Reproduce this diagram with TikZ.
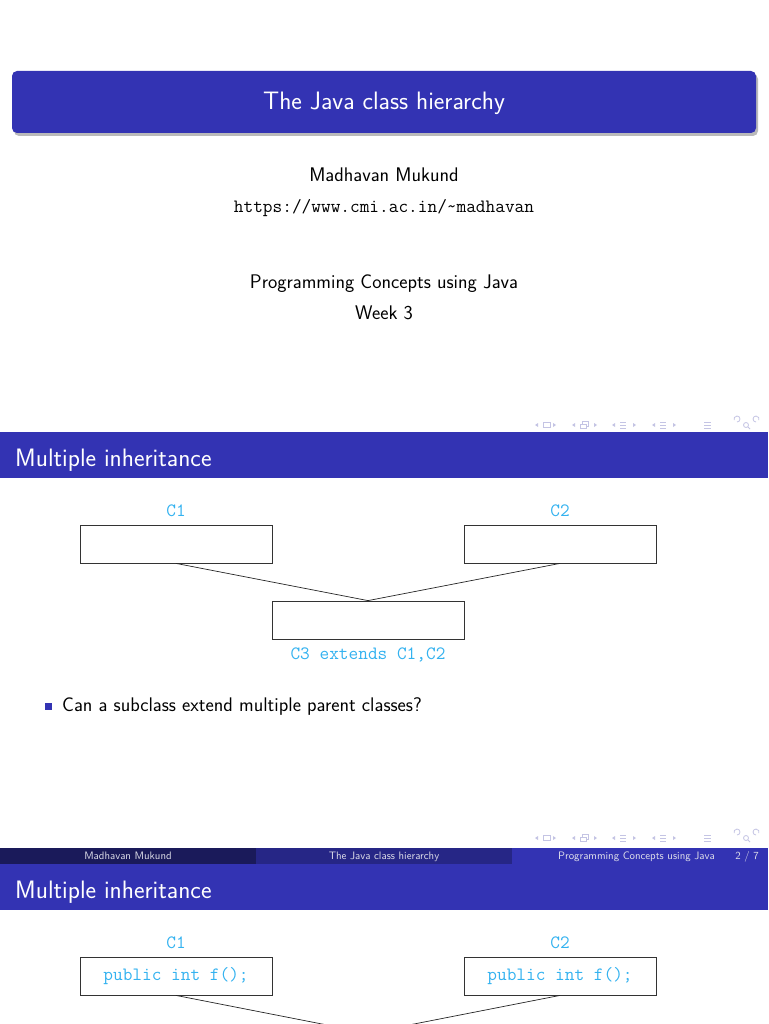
\documentclass[tikz,border=0pt]{standalone}
\usetikzlibrary{shadows}
\definecolor{bblue}{RGB}{51,51,179}
\definecolor{bmid}{RGB}{38,38,134}
\definecolor{bdark}{RGB}{26,26,90}
\definecolor{codecol}{RGB}{51,178,240}
\definecolor{navcol}{RGB}{196,196,228}
\definecolor{foottxt}{RGB}{225,225,235}
\newcommand\fnorm{\fontsize{19.7}{23}\selectfont}
\newcommand\fcode{\fontsize{18.8}{22}\selectfont}
\newcommand\flarge{\fontsize{25.2}{30}\selectfont}
\newcommand\ftiny{\fontsize{10.8}{13}\selectfont}
\newcommand\navsymbols[1]{%
  \begin{scope}[shift={(0,#1)}, navcol, line width=0.8pt]
    % group 1
    \fill (535,0) -- (538,-2) -- (538,2) -- cycle;
    \draw (543,-2.5) rectangle (550,2.5);
    \fill (556,0) -- (553,-2) -- (553,2) -- cycle;
    % group 2
    \fill (572,0) -- (575,-2) -- (575,2) -- cycle;
    \draw (580,-1) rectangle (586,3.5);
    \draw (582,-1) -- (582,-3.5) -- (588,-3.5) -- (588,1.5) -- (586,1.5);
    \fill (597,0) -- (594,-2) -- (594,2) -- cycle;
    % group 3
    \fill (612,0) -- (615,-2) -- (615,2) -- cycle;
    \draw (620,-3) -- (626,-3) (620,0) -- (626,0) (620,3) -- (626,3);
    \fill (636,0) -- (633,-2) -- (633,2) -- cycle;
    % group 4
    \fill (652,0) -- (655,-2) -- (655,2) -- cycle;
    \draw (660,-3) -- (666,-3) (660,0) -- (666,0) (660,3) -- (666,3);
    \fill (676,0) -- (673,-2) -- (673,2) -- cycle;
    % single
    \draw (704,-3) -- (711,-3) (704,0) -- (711,0) (704,3) -- (711,3);
    % search group
    \draw (737,-3) arc (90:-200:3);
    \draw (746,0) circle (2.5) (748,2) -- (750,4);
    \draw (756,-3) arc (90:380:3);
  \end{scope}}
\tikzset{
  titlebox/.style={fill=bblue, rounded corners=5pt, minimum width=744, minimum height=62,
    inner sep=0pt,
    drop shadow={shadow xshift=2pt, shadow yshift=-3pt, opacity=0.45, fill=black!60}},
  titletext/.style={text=white, font=\flarge\sffamily, inner sep=0pt, anchor=base},
  framebar/.style={fill=bblue, minimum width=768, minimum height=46, inner sep=0pt, anchor=north west},
  frametext/.style={text=white, font=\flarge\sffamily, anchor=base west, inner sep=0pt},
  body/.style={font=\fnorm\sffamily, inner sep=0pt},
  code/.style={text=codecol, font=\fcode\ttfamily, inner sep=0pt, anchor=base},
  classbox/.style={draw=black!80, line width=0.8pt, minimum width=192, minimum height=38, inner sep=0pt,
    text=codecol, font=\fcode\ttfamily},
  link/.style={draw=black!85, line width=0.7pt},
  footbox/.style={minimum width=256, minimum height=16, inner sep=0pt, anchor=north west},
  foottext/.style={text=foottxt, font=\ftiny\sffamily, inner sep=0pt, anchor=base},
}
\begin{document}
\begin{tikzpicture}[x=1pt,y=-1pt]
\useasboundingbox (0,0) rectangle (768,1024);
\fill[white] (0,0) rectangle (768,1024);

% ---------- slide 1 ----------
\node[titlebox] (title) at (384,102) {};
\node[titletext] (titlet) at (384,110) {The Java class hierarchy};
\node[body, anchor=base] (author) at (384,182) {Madhavan Mukund};
\node[body, anchor=base, font=\fcode\ttfamily] (url) at (384,213) {https://www.cmi.ac.in/\char`\~madhavan};
\node[body, anchor=base] (course) at (384,288) {Programming Concepts using Java};
\node[body, anchor=base] (week) at (384,319) {Week 3};
\navsymbols{425}

% ---------- slide 2 ----------
\node[framebar] (bar2) at (0,432) {};
\node[frametext] (ft2) at (15,466) {Multiple inheritance};

\node[classbox] (c1) at (176,544) {};
\node[classbox] (c2) at (560,544) {};
\node[classbox] (c3) at (368,620) {};
\node[code] (lc1) at (176,516) {C1};
\node[code] (lc2) at (560,516) {C2};
\node[code] (lc3) at (368,659) {C3 extends C1,C2};
\draw[link] (c1.south) -- (c3.north);
\draw[link] (c2.south) -- (c3.north);

\node[fill=bblue, minimum size=7, inner sep=0pt] (bul) at (48.5,706.5) {};
\node[body, anchor=base west] (q) at (62,711) {Can a subclass extend multiple parent classes?};
\navsymbols{838}

% footer
\node[footbox, fill=bdark] (f1) at (0,848) {};
\node[footbox, fill=bmid] (f2) at (256,848) {};
\node[footbox, fill=bblue] (f3) at (512,848) {};
\node[foottext] (fa) at (128,859.5) {Madhavan Mukund};
\node[foottext] (fb) at (384,859.5) {The Java class hierarchy};
\node[foottext, anchor=base east] (fc) at (715,859.5) {Programming Concepts using Java};
\node[foottext, anchor=base east] (fd) at (759,859.5) {2 / 7};

% ---------- slide 3 ----------
\node[framebar] (bar3) at (0,864) {};
\node[frametext] (ft3) at (15,898) {Multiple inheritance};
\node[classbox] (d1) at (176,976) {public int f();};
\node[classbox] (d2) at (560,976) {public int f();};
\node[code] (ld1) at (176,948) {C1};
\node[code] (ld2) at (560,948) {C2};
\coordinate (d3top) at (368,1033);
\begin{scope}
\clip (0,0) rectangle (768,1024);
\draw[link] (d1.south) -- (d3top);
\draw[link] (d2.south) -- (d3top);
\end{scope}
\end{tikzpicture}
\end{document}
